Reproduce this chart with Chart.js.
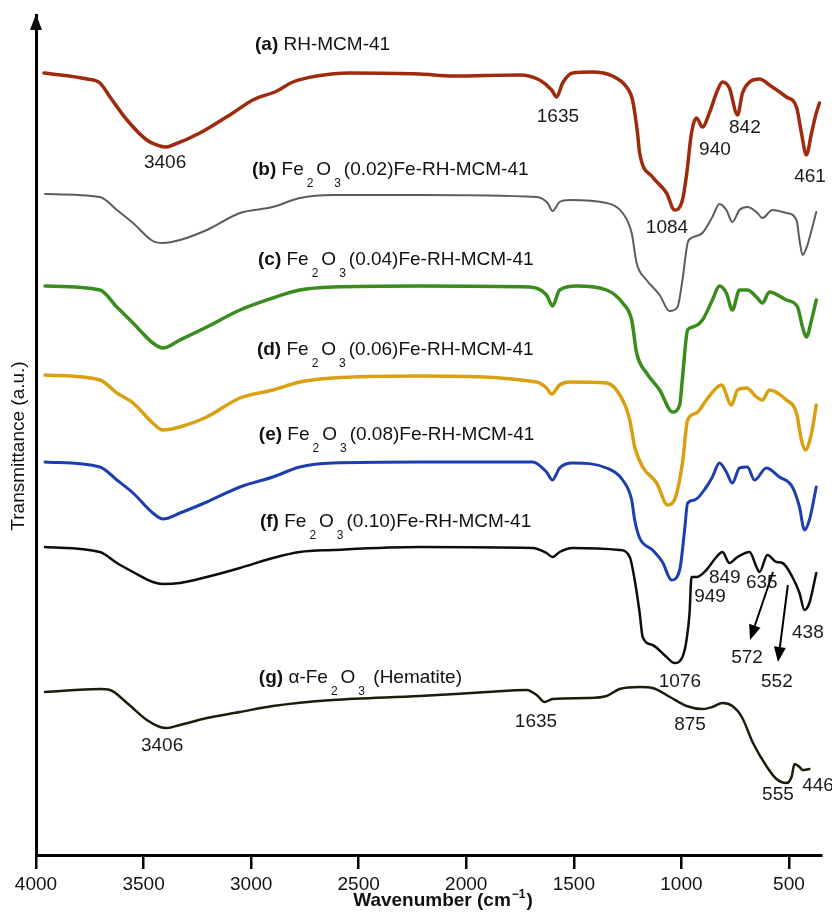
<!DOCTYPE html>
<html>
<head>
<meta charset="utf-8">
<script src="https://cdn.jsdelivr.net/npm/chart.js@4.4.1/dist/chart.umd.min.js"></script>
<style>
  html, body { margin: 0; padding: 0; background: #fff; }
  #wrap { width: 832px; height: 914px; }
</style>
</head>
<body>
<div id="wrap"><canvas id="ftir" width="832" height="914"></canvas></div>
<script>
// FTIR spectra, [wavenumber (cm-1), transmittance (a.u., offset per curve)]
const xTicks = [4000, 3500, 3000, 2500, 2000, 1500, 1000, 500];

const rhMcm41 = [[3963,782],[3763,776],[3703,772],[3656,758],[3577,735],[3485,715],[3424,709],[3396,708],[3364,710],[3238,722],[3085,742],[2992,755],[2880,764],[2806,773],[2695,779],[2541,782],[2216,781],[2063,779],[1752,780],[1659,775],[1603,765],[1580,758],[1552,772],[1506,782],[1413,783],[1320,779],[1255,768],[1227,755],[1204,722],[1194,702],[1134,678],[1069,662],[1032,645],[995,655],[976,680],[953,722],[930,737],[902,728],[870,742],[837,762],[809,773],[777,767],[739,740],[716,762],[683,773],[637,776],[591,770],[512,758],[465,748],[442,722],[419,700],[395,722],[373,742],[358,752]];

const fe002 = [[3958,661],[3703,658],[3624,645],[3549,632],[3457,614],[3410,612],[3331,615],[3206,625],[3052,642],[2899,648],[2774,657],[2620,660],[2216,660],[1673,658],[1622,652],[1599,644],[1566,653],[1520,655],[1348,652],[1273,642],[1231,622],[1208,592],[1162,575],[1101,560],[1055,544],[1018,548],[995,575],[971,612],[953,617],[902,622],[856,638],[823,651],[791,645],[763,633],[730,645],[693,648],[651,643],[623,637],[577,645],[512,642],[465,635],[451,615],[437,600],[414,610],[391,628],[373,643]];

const fe004 = [[3958,569],[3703,565],[3624,548],[3549,532],[3457,512],[3410,507],[3331,515],[3206,528],[3052,545],[2899,557],[2774,565],[2620,568],[2216,569],[1705,568],[1627,560],[1599,549],[1566,565],[1487,569],[1348,565],[1273,552],[1231,535],[1208,502],[1162,482],[1101,465],[1041,443],[1008,450],[995,477],[971,525],[948,528],[902,535],[856,555],[823,569],[791,562],[763,545],[730,565],[693,565],[651,558],[623,552],[591,563],[512,555],[460,548],[437,528],[419,518],[395,535],[373,555]];

const fe006 = [[3958,480],[3703,475],[3624,462],[3549,452],[3457,432],[3410,425],[3331,428],[3206,438],[3052,457],[2899,465],[2774,473],[2620,477],[2216,479],[1673,473],[1627,467],[1603,461],[1566,470],[1520,473],[1348,472],[1273,455],[1240,435],[1217,408],[1180,388],[1115,372],[1064,350],[1027,358],[995,392],[971,435],[930,442],[884,455],[837,467],[814,470],[767,450],[739,465],[697,467],[651,458],[623,455],[591,465],[512,455],[465,442],[442,415],[424,405],[395,422],[373,450]];

const fe008 = [[3958,393],[3703,388],[3624,375],[3549,362],[3457,342],[3410,336],[3331,342],[3206,353],[3052,368],[2899,378],[2774,388],[2620,392],[2216,393],[1692,393],[1627,383],[1599,375],[1566,387],[1506,392],[1348,387],[1273,375],[1231,355],[1217,335],[1194,317],[1134,305],[1088,293],[1046,275],[1008,285],[985,325],[971,352],[939,355],[884,368],[856,378],[823,392],[791,383],[763,372],[730,387],[693,388],[660,375],[605,387],[544,378],[484,368],[451,348],[428,325],[405,335],[373,368]];

const fe010 = [[3958,308],[3703,303],[3624,292],[3549,283],[3457,273],[3410,271],[3331,272],[3206,278],[3052,287],[2899,297],[2774,303],[2620,305],[2216,308],[1692,307],[1627,302],[1599,298],[1566,303],[1506,307],[1287,305],[1240,298],[1217,275],[1194,242],[1180,218],[1134,210],[1069,198],[1032,192],[995,198],[976,215],[962,242],[953,278],[930,278],[884,285],[837,298],[809,303],[777,292],[739,298],[683,303],[651,288],[637,283],[600,300],[558,293],[530,292],[484,278],[451,262],[428,245],[405,252],[373,282]];

const hematite = [[3958,163],[3703,166],[3656,165],[3577,152],[3485,135],[3424,128],[3392,127],[3331,130],[3206,137],[3052,143],[2899,149],[2620,155],[2216,159],[1904,163],[1719,165],[1673,160],[1636,153],[1599,156],[1439,157],[1348,159],[1287,166],[1194,168],[1134,167],[1053,158],[976,149],[902,146],[856,148],[809,152],[763,149],[719,138],[667,112],[602,88],[558,76],[512,72],[488,78],[474,91],[451,88],[437,85],[405,86]];

// curve names, with sub/superscripts split out
const curveLabels = [
  { at: [2982, 810], parts: [{ t: '(a)', b: 1 }, { t: ' RH-MCM-41' }] },
  { at: [2996, 685], parts: [{ t: '(b)', b: 1 }, { t: ' Fe' }, { t: '2', sub: 1 }, { t: 'O' }, { t: '3', sub: 1 }, { t: '(0.02)Fe-RH-MCM-41' }] },
  { at: [2968, 595], parts: [{ t: '(c)', b: 1 }, { t: ' Fe' }, { t: '2', sub: 1 }, { t: 'O' }, { t: '3', sub: 1 }, { t: '(0.04)Fe-RH-MCM-41' }] },
  { at: [2973, 505], parts: [{ t: '(d)', b: 1 }, { t: ' Fe' }, { t: '2', sub: 1 }, { t: 'O' }, { t: '3', sub: 1 }, { t: '(0.06)Fe-RH-MCM-41' }] },
  { at: [2964, 420], parts: [{ t: '(e)', b: 1 }, { t: ' Fe' }, { t: '2', sub: 1 }, { t: 'O' }, { t: '3', sub: 1 }, { t: '(0.08)Fe-RH-MCM-41' }] },
  { at: [2959, 333], parts: [{ t: '(f)', b: 1 }, { t: ' Fe' }, { t: '2', sub: 1 }, { t: 'O' }, { t: '3', sub: 1 }, { t: '(0.10)Fe-RH-MCM-41' }] },
  { at: [2964, 177], parts: [{ t: '(g)', b: 1 }, { t: ' α-Fe' }, { t: '2', sub: 1 }, { t: 'O' }, { t: '3', sub: 1 }, { t: ' (Hematite)' }] }
];

// band positions written on the plot: [x, y, text]
const peakLabels = [
  [3400, 692, '3406'], [1574, 738, '1635'], [705, 727, '842'], [844, 705, '940'], [402, 678, '461'],
  [1067, 627, '1084'],
  [798, 277, '849'], [626, 272, '635'], [867, 258, '949'], [412, 222, '438'],
  [695, 197, '572'], [556, 173, '552'], [1007, 173, '1076'],
  [3414, 109, '3406'], [1676, 133, '1635'], [960, 130, '875'], [551, 60, '555'], [365, 69, '446']
];

// arrows from the (f) curve to 572 / 552: [fromX, fromY, toX, toY]
const arrows = [
  [574, 283, 681, 215],
  [505, 270, 551, 193]
];

const FONT = '"Liberation Sans", Arial, Helvetica, sans-serif';

const series = [
  { name: 'RH-MCM-41', data: rhMcm41, color: '#9e2b0e', width: 3.5 },
  { name: 'Fe2O3(0.02)Fe-RH-MCM-41', data: fe002, color: '#5c5c5c', width: 2 },
  { name: 'Fe2O3(0.04)Fe-RH-MCM-41', data: fe004, color: '#3a8c1c', width: 3.5 },
  { name: 'Fe2O3(0.06)Fe-RH-MCM-41', data: fe006, color: '#d9a112', width: 3.5 },
  { name: 'Fe2O3(0.08)Fe-RH-MCM-41', data: fe008, color: '#1d3fae', width: 3 },
  { name: 'Fe2O3(0.10)Fe-RH-MCM-41', data: fe010, color: '#0d0d0d', width: 2.5 },
  { name: 'α-Fe2O3 (Hematite)', data: hematite, color: '#1c1c0c', width: 2.5 }
];

function drawRich(ctx, x, y, parts, size) {
  let cx = x;
  parts.forEach(p => {
    const small = p.sub || p.sup;
    const fs = small ? 12 : size;
    ctx.font = `${p.b ? 'bold ' : ''}${fs}px ${FONT}`;
    const dy = p.sub ? 14 : p.sup ? -6 : 0;
    if (small) cx += 3;
    ctx.fillText(p.t, cx, y + dy);
    cx += ctx.measureText(p.t).width;
    if (small) cx += 3;
  });
  return cx - x;
}

const annotations = {
  id: 'annotations',
  afterDraw(chart) {
    const { ctx, chartArea, scales: { x, y } } = chart;
    ctx.save();
    ctx.fillStyle = '#111';
    ctx.textBaseline = 'middle';

    // arrow head on the y axis
    ctx.beginPath();
    ctx.moveTo(chartArea.left, chartArea.top - 1);
    ctx.lineTo(chartArea.left - 6, chartArea.top + 15);
    ctx.lineTo(chartArea.left + 6, chartArea.top + 15);
    ctx.closePath();
    ctx.fill();

    // curve names
    ctx.textAlign = 'left';
    curveLabels.forEach(l => {
      drawRich(ctx, x.getPixelForValue(l.at[0]), y.getPixelForValue(l.at[1]), l.parts, 19);
    });

    // band numbers
    ctx.textAlign = 'center';
    ctx.font = `19px ${FONT}`;
    ctx.fillStyle = '#1a1a1a';
    peakLabels.forEach(([wx, wy, t]) => {
      ctx.fillText(t, x.getPixelForValue(wx), y.getPixelForValue(wy));
    });

    // arrows
    ctx.strokeStyle = '#000';
    ctx.fillStyle = '#000';
    ctx.lineWidth = 2;
    arrows.forEach(([x0, y0, x1, y1]) => {
      const ax = x.getPixelForValue(x0), ay = y.getPixelForValue(y0);
      const bx = x.getPixelForValue(x1), by = y.getPixelForValue(y1);
      const ang = Math.atan2(by - ay, bx - ax);
      const hl = 15, hw = 6;
      const baseX = bx - hl * Math.cos(ang), baseY = by - hl * Math.sin(ang);
      ctx.beginPath();
      ctx.moveTo(ax, ay);
      ctx.lineTo(baseX, baseY);
      ctx.stroke();
      ctx.beginPath();
      ctx.moveTo(bx, by);
      ctx.lineTo(baseX + hw * Math.sin(ang), baseY - hw * Math.cos(ang));
      ctx.lineTo(baseX - hw * Math.sin(ang), baseY + hw * Math.cos(ang));
      ctx.closePath();
      ctx.fill();
    });

    // axis titles
    ctx.fillStyle = '#111';
    ctx.textAlign = 'left';
    const main = 'Wavenumber (cm';
    ctx.font = `bold 19px ${FONT}`;
    const w1 = ctx.measureText(main).width;
    ctx.font = `bold 12px ${FONT}`;
    const w2 = ctx.measureText('−1').width;
    ctx.font = `bold 19px ${FONT}`;
    const w3 = ctx.measureText(')').width;
    let tx = 443 - (w1 + w2 + w3 + 2) / 2;
    const ty = 901;
    ctx.fillText(main, tx, ty);
    tx += w1 + 1;
    ctx.font = `bold 12px ${FONT}`;
    ctx.fillText('−1', tx, ty - 6);
    tx += w2 + 1;
    ctx.font = `bold 19px ${FONT}`;
    ctx.fillText(')', tx, ty);

    ctx.translate(19, 446);
    ctx.rotate(-Math.PI / 2);
    ctx.textAlign = 'center';
    ctx.font = `19px ${FONT}`;
    ctx.fillText('Transmittance (a.u.)', 0, 0);
    ctx.restore();
  }
};

const chart = new Chart(document.getElementById('ftir'), {
  type: 'line',
  data: {
    datasets: series.map(s => ({
      label: s.name,
      data: s.data.map(([wx, wy]) => ({ x: wx, y: wy })),
      borderColor: s.color,
      borderWidth: s.width,
      pointRadius: 0,
      fill: false,
      cubicInterpolationMode: 'monotone',
      borderJoinStyle: 'round',
      borderCapStyle: 'round'
    }))
  },
  options: {
    responsive: false,
    animation: false,
    devicePixelRatio: 1,
    layout: { padding: { top: 15, right: 11, bottom: 0, left: 0 } },
    plugins: {
      legend: { display: false },
      tooltip: { enabled: false }
    },
    scales: {
      x: {
        type: 'linear',
        reverse: true,
        min: 351,
        max: 4000,
        afterBuildTicks: scale => { scale.ticks = xTicks.map(v => ({ value: v })); },
        afterFit: scale => { scale.height = 59; },
        ticks: {
          autoSkip: false,
          maxRotation: 0,
          padding: 4,
          color: '#111',
          font: { family: FONT, size: 19 },
          callback: v => String(v)
        },
        grid: {
          drawOnChartArea: false,
          drawTicks: true,
          tickLength: 14,
          color: '#000',
          lineWidth: 2.5
        },
        border: { display: true, color: '#000', width: 3 }
      },
      y: {
        type: 'linear',
        min: 0,
        max: 840,
        afterFit: scale => { scale.width = 36; },
        ticks: { display: false },
        grid: { display: false, drawTicks: false },
        border: { display: true, color: '#000', width: 3 }
      }
    }
  },
  plugins: [annotations]
});
</script>
</body>
</html>
